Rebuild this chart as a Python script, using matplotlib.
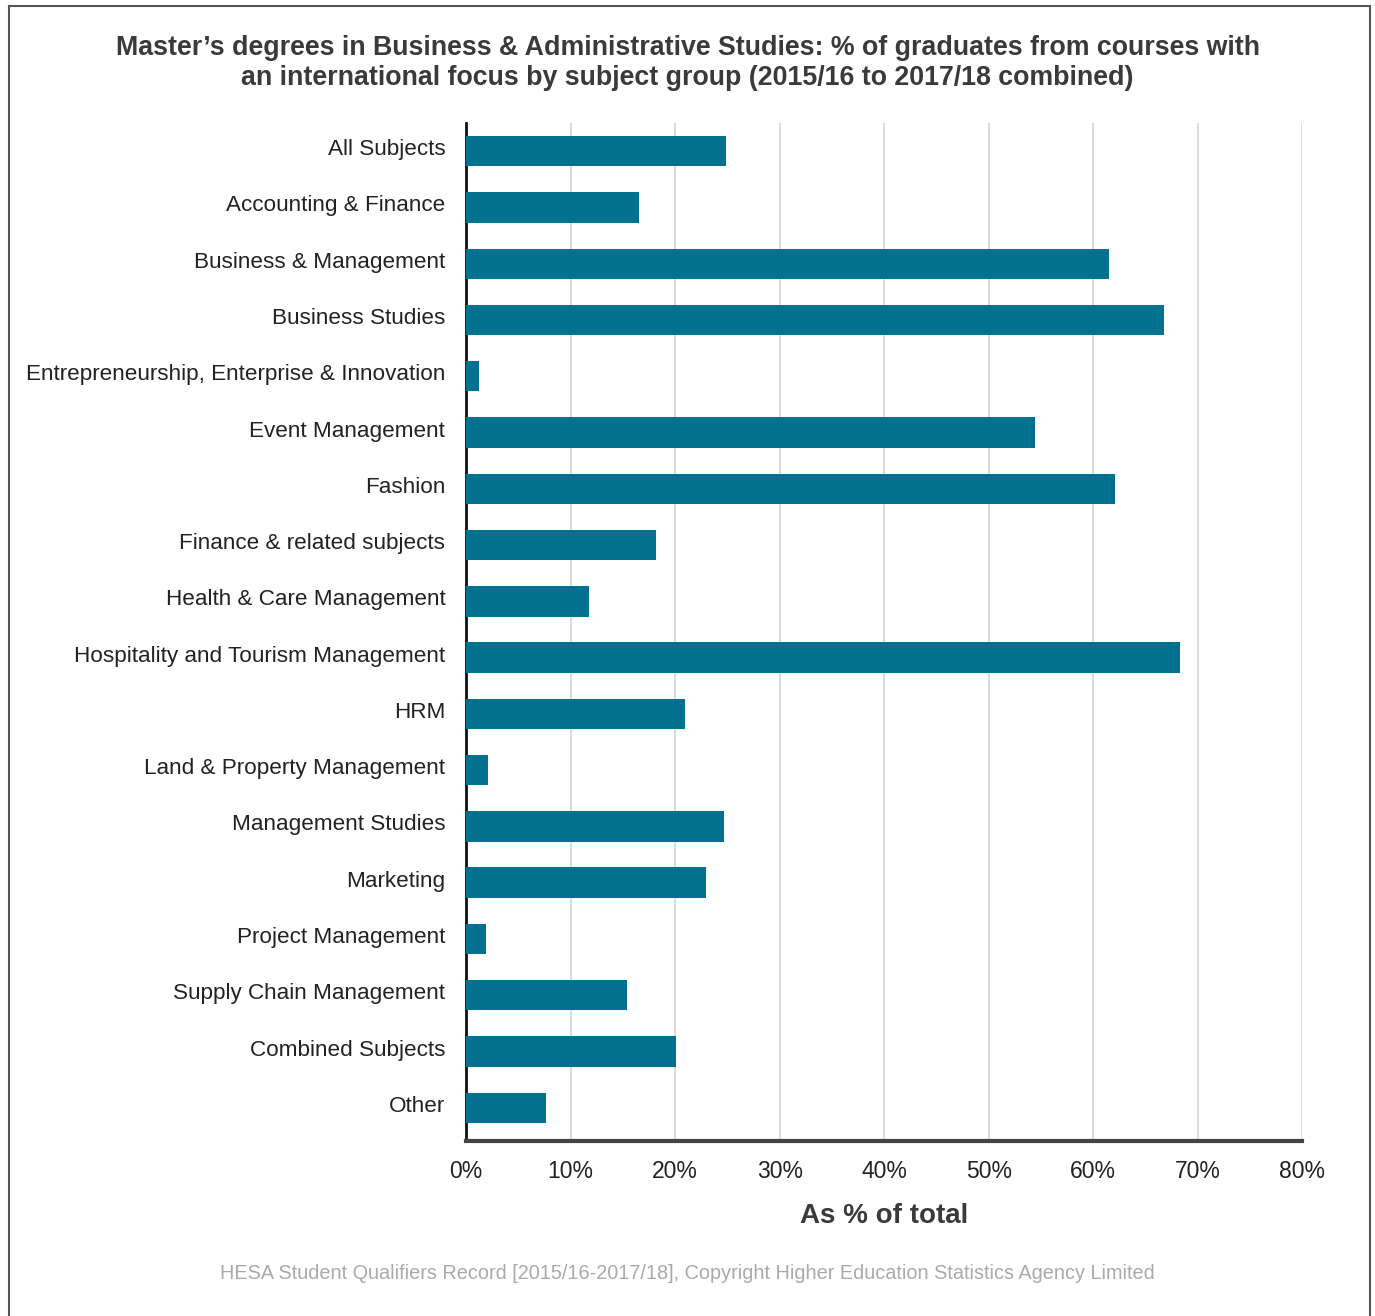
import matplotlib
matplotlib.use("Agg")
import matplotlib.pyplot as plt
import matplotlib.transforms as mtransforms
from matplotlib.lines import Line2D

CATEGORIES = [
    "All Subjects", "Accounting & Finance", "Business & Management", "Business Studies",
    "Entrepreneurship, Enterprise & Innovation", "Event Management", "Fashion",
    "Finance & related subjects", "Health & Care Management",
    "Hospitality and Tourism Management", "HRM", "Land & Property Management",
    "Management Studies", "Marketing", "Project Management", "Supply Chain Management",
    "Combined Subjects", "Other",
]
VALUES = [24.9, 16.5, 61.5, 66.8, 1.2, 54.4, 62.1, 18.2, 11.8, 68.3,
          20.9, 2.1, 24.7, 23.0, 1.9, 15.4, 20.1, 7.6]
XTICKS = [0, 10, 20, 30, 40, 50, 60, 70, 80]

FONT = ["Liberation Sans Narrow", "Liberation Sans", "DejaVu Sans"]
plt.rcParams['font.family'] = FONT

fig = plt.figure(figsize=(13.75, 13.16), dpi=100)
ax = fig.add_axes([0.339, 0.133, 0.608, 0.7735])

ax.barh(range(len(VALUES)), VALUES, height=0.54, color="#01718F", zorder=3)
ax.set_ylim(len(VALUES) - 0.41, -0.5)
ax.set_xlim(0, 80)
ax.set_yticks(range(len(CATEGORIES)))
ax.set_yticklabels(CATEGORIES, fontsize=16.2, color="#222222")
ax.set_xticks(XTICKS)
ax.set_xticklabels([f"{t}%" for t in XTICKS], fontsize=16.5, color="#222222")
ax.tick_params(axis='both', length=0)
ax.tick_params(axis='y', pad=15)
ax.tick_params(axis='x', pad=14)
# nudge category labels up slightly
shift = mtransforms.ScaledTranslation(0, 4 / 100, fig.dpi_scale_trans)
for lbl in ax.get_yticklabels():
    lbl.set_transform(lbl.get_transform() + shift)
ax.xaxis.grid(True, color="#d9d9d9", linewidth=1.3, zorder=0)
ax.set_axisbelow(True)
for s in ["top", "right"]:
    ax.spines[s].set_visible(False)
ax.spines["left"].set_color("#111111")
ax.spines["left"].set_linewidth(2)
ax.spines["bottom"].set_color("#444444")
ax.spines["bottom"].set_linewidth(3)
ax.set_xlabel("As % of total", fontsize=20, fontweight="bold", color="#3a3a3a", labelpad=14)

fig.text(0.5, 0.952, "Master\u2019s degrees in Business & Administrative Studies: % of graduates from courses with\n"
         "an international focus by subject group (2015/16 to 2017/18 combined)",
         ha="center", va="center", fontsize=19.3, fontweight="bold", color="#3a3a3a", linespacing=1.2)
fig.text(0.5, 0.032, "HESA Student Qualifiers Record [2015/16-2017/18], Copyright Higher Education Statistics Agency Limited",
         ha="center", va="center", fontsize=14.3, color="#aaaaaa")

# outer frame
fig.add_artist(Line2D([0.0065, 0.0065], [0.0, 0.9955], color="#555555", linewidth=1.5, transform=fig.transFigure))
fig.add_artist(Line2D([0.0065, 0.9965], [0.9955, 0.9955], color="#555555", linewidth=1.5, transform=fig.transFigure))
fig.add_artist(Line2D([0.9965, 0.9965], [0.0, 0.9955], color="#555555", linewidth=1.5, transform=fig.transFigure))

fig.savefig("out.png", dpi=100)
